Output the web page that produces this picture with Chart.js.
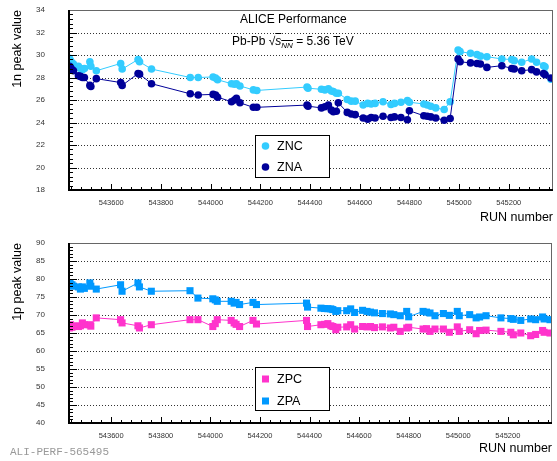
<!DOCTYPE html>
<html>
<head>
<meta charset="utf-8">
<script src="https://cdn.jsdelivr.net/npm/chart.js@4.4.0/dist/chart.umd.min.js"></script>
<style>
  body { margin: 0; background: #fff; }
  #wrap { position: relative; width: 557px; height: 461px; font-family: 'Liberation Sans', Arial, sans-serif; }
  #wrap canvas { position: absolute; left: 0; }
  .txt { position: absolute; white-space: nowrap; color: #000; }
  .txt sub { font-size: 8px; }
</style>
</head>
<body>
<div id="wrap">
  <canvas id="chartN" width="557" height="230" style="top:0"></canvas>
  <canvas id="chartP" width="557" height="231" style="top:230px"></canvas>
  <div class="txt" style="left:240px; top:12px; font-size:12px;">ALICE Performance</div>
  <div class="txt" style="left:232px; top:34px; font-size:12px;">Pb-Pb &#8730;<span style="text-decoration:overline"><i>s</i><sub><i>NN</i></sub></span> = 5.36 TeV</div>
  <div class="txt" style="left:10px; top:446px; font-family:'Liberation Mono', monospace; font-size:11px; color:#999;">ALI-PERF-565495</div>
</div>
<script>
// run numbers (shared by all four series)
const runs = [
  543432, 543436, 543442, 543448, 543468, 543476, 543484, 543492, 543514, 543518,
  543540, 543638, 543644, 543708, 543714, 543762, 543918, 543950, 544010, 544020,
  544028, 544084, 544096, 544104, 544118, 544172, 544186, 544388, 544392, 544446,
  544460, 544474, 544486, 544494, 544506, 544514, 544550, 544566, 544582, 544614,
  544632, 544646, 544662, 544694, 544726, 544740, 544766, 544792, 544800, 544858,
  544872, 544886, 544906, 544940, 544964, 544996, 545004, 545046, 545072, 545086,
  545112, 545172, 545212, 545222, 545252, 545292, 545312, 545340, 545346, 545370
];

// 1n peak values
const znc = [
  29.7, 29.5, 29.3, 29.2, 29.0, 28.8, 28.7, 28.8, 29.4, 29.0,
  28.6, 29.25, 28.75, 29.6, 29.4, 28.75, 28.0, 28.0, 28.05, 27.95,
  27.8, 27.45, 27.4, 27.45, 27.25, 26.9, 26.85, 27.15, 27.05, 26.95,
  26.9, 27.0, 26.8, 26.75, 26.6, 26.6, 26.05, 25.9, 25.9, 25.55,
  25.7, 25.65, 25.7, 25.85, 25.6, 25.7, 25.8, 25.95, 25.8, 25.65,
  25.55, 25.45, 25.3, 25.15, 25.85, 30.45, 30.3, 30.15, 30.05, 29.9,
  29.85, 29.65, 29.6, 29.5, 29.35, 29.65, 29.35, 29.05, 28.95, 27.85
];
const zna = [
  29.0, 28.9, 28.7, 28.6, 28.15, 28.1, 28.0, 28.0, 27.3, 27.2,
  27.9, 27.55, 27.3, 28.35, 28.3, 27.45, 26.55, 26.45, 26.5, 26.45,
  26.25, 25.85, 26.0, 26.15, 25.75, 25.35, 25.35, 25.55, 25.45, 25.3,
  25.4, 25.55, 25.1, 24.95, 25.0, 25.75, 24.9, 24.75, 24.7, 24.4,
  24.3, 24.45, 24.4, 24.55, 24.45, 24.5, 24.45, 24.25, 25.05, 24.6,
  24.55, 24.5, 24.4, 24.2, 24.35, 29.65, 29.4, 29.3, 29.25, 29.2,
  28.9, 29.05, 28.8, 28.75, 28.6, 28.7, 28.5, 28.35, 28.25, 27.95
];

// 1p peak values
const zpc = [
  66.4, 67.3, 66.6, 67.0, 66.8, 67.0, 67.8, 67.3, 67.3, 66.9,
  69.2, 68.7, 67.8, 67.0, 66.4, 67.3, 68.7, 68.7, 66.8, 67.6,
  68.7, 68.5, 67.8, 67.4, 66.8, 68.5, 67.5, 68.5, 66.8, 67.3,
  67.4, 67.6, 67.0, 66.8, 65.9, 66.6, 66.7, 67.3, 66.1, 66.8,
  66.7, 66.8, 66.5, 66.7, 66.4, 66.6, 65.45, 66.4, 66.6, 66.1,
  66.2, 65.45, 66.1, 66.1, 65.2, 66.7, 65.45, 65.9, 64.8, 65.7,
  65.8, 65.45, 65.2, 64.5, 65.0, 64.25, 64.6, 65.7, 65.2, 65.0
];
const zpa = [
  78.9, 78.6, 78.4, 78.0, 77.8, 77.2, 77.8, 77.4, 78.9, 78.0,
  77.2, 78.4, 76.6, 78.9, 77.8, 76.6, 76.75, 74.7, 74.5, 74.2,
  73.8, 73.8, 73.3, 73.5, 72.9, 73.5, 72.9, 73.3, 72.2, 71.9,
  71.8, 71.75, 71.7, 71.5, 71.0, 71.2, 71.2, 71.7, 70.7, 71.3,
  71.0, 70.8, 70.6, 70.4, 70.3, 70.1, 69.8, 71.0, 69.5, 71.0,
  70.8, 70.55, 69.8, 70.4, 69.9, 71.0, 69.8, 70.1, 69.2, 69.45,
  69.8, 69.2, 69.0, 68.8, 68.5, 68.9, 68.7, 69.45, 68.9, 68.7
];

// axis ticks
const xTicks = [543600, 543800, 544000, 544200, 544400, 544600, 544800, 545000, 545200];
const yTicksN = [18, 20, 22, 24, 26, 28, 30, 32, 34];
const yTicksP = [40, 45, 50, 55, 60, 65, 70, 75, 80, 85, 90];
const xMin = 543430, xMax = 545378;

Chart.defaults.font.family = "'Liberation Sans', Arial, sans-serif";

// ROOT style frame: dotted y grid, inward ticks, frame, legend box
const rootFrame = {
  id: 'rootFrame',
  beforeDatasetsDraw(chart, args, o) {
    const { ctx, chartArea: a, scales: { y } } = chart;
    ctx.save();
    ctx.strokeStyle = '#333';
    ctx.lineWidth = 1;
    ctx.setLineDash([1, 2]);
    o.yMajor.forEach(v => {
      if (v <= y.min || v >= y.max) return;
      const py = Math.round(y.getPixelForValue(v)) + 0.5;
      ctx.beginPath(); ctx.moveTo(a.left, py); ctx.lineTo(a.right, py); ctx.stroke();
    });
    ctx.restore();
  },
  afterDatasetsDraw(chart, args, o) {
    const { ctx, chartArea: a, scales: { x, y } } = chart;
    ctx.save();
    ctx.setLineDash([]);
    ctx.strokeStyle = '#000';
    ctx.lineWidth = 1;
    // y ticks (inward, from left axis)
    for (let i = 0; ; i++) {
      const v = y.min + i * o.yMinor;
      if (v > y.max + 1e-9) break;
      const py = Math.round(y.getPixelForValue(v)) + 0.5;
      const major = o.yMajor.some(m => Math.abs(m - v) < 1e-6);
      ctx.beginPath(); ctx.moveTo(a.left, py); ctx.lineTo(a.left + (major ? 8 : 4), py); ctx.stroke();
    }
    // x ticks (inward, from bottom axis)
    const x0 = Math.ceil(x.min / o.xMinor) * o.xMinor;
    for (let v = x0; v <= x.max; v += o.xMinor) {
      const px = Math.round(x.getPixelForValue(v)) + 0.5;
      const major = v % 200 === 0;
      ctx.beginPath(); ctx.moveTo(px, a.bottom); ctx.lineTo(px, a.bottom - (major ? 6 : 3)); ctx.stroke();
    }
    // frame
    ctx.strokeStyle = '#666';
    ctx.beginPath(); ctx.moveTo(a.left, a.top + 0.5); ctx.lineTo(a.right, a.top + 0.5); ctx.stroke();
    ctx.beginPath(); ctx.moveTo(a.right - 0.5, a.top); ctx.lineTo(a.right - 0.5, a.bottom); ctx.stroke();
    ctx.strokeStyle = '#000';
    ctx.lineWidth = 2;
    ctx.beginPath(); ctx.moveTo(a.left, a.top); ctx.lineTo(a.left, a.bottom); ctx.lineTo(a.right, a.bottom); ctx.stroke();

    // legend
    const L = o.legend;
    ctx.lineWidth = 1;
    ctx.fillStyle = '#fff';
    ctx.fillRect(L.x, L.y, L.w, L.h);
    ctx.strokeStyle = '#000';
    ctx.strokeRect(L.x + 0.5, L.y + 0.5, L.w, L.h);
    ctx.font = "12.5px 'Liberation Sans', Arial, sans-serif";
    ctx.textBaseline = 'middle';
    chart.data.datasets.slice().reverse().forEach((ds, i) => {
      const cy = L.y + L.row0 + i * L.step;
      ctx.fillStyle = ds.backgroundColor;
      if (ds.pointStyle === 'rect') {
        ctx.fillRect(L.x + 7, cy - 3.5, 7, 7);
      } else {
        ctx.beginPath(); ctx.arc(L.x + 10.5, cy, 3.8, 0, Math.PI * 2); ctx.fill();
      }
      ctx.fillStyle = '#000';
      ctx.fillText(ds.label, L.x + 22, cy + 0.5);
    });
    ctx.restore();
  }
};

function series(label, vals, color, style) {
  return {
    label: label,
    data: runs.map((r, i) => ({ x: r, y: vals[i] })),
    showLine: true,
    borderColor: color,
    backgroundColor: color,
    borderWidth: 1,
    pointStyle: style,
    pointRadius: style === 'rect' ? 5 : 3.8,
    pointBorderWidth: 0,
    pointBackgroundColor: color
  };
}

function makeChart(id, datasets, yMin, yMax, yTicks, yMinor, yTitle, padTop, xAxisH, legend) {
  return new Chart(document.getElementById(id), {
    type: 'scatter',
    data: { datasets: datasets },
    options: {
      responsive: false,
      animation: false,
      devicePixelRatio: 1,
      layout: { padding: { left: 0, right: 1, top: padTop, bottom: 0 } },
      plugins: {
        legend: { display: false },
        tooltip: { enabled: false },
        rootFrame: { yMajor: yTicks, yMinor: yMinor, xMinor: 40, legend: legend }
      },
      scales: {
        x: {
          type: 'linear', min: xMin, max: xMax,
          grid: { display: false, drawTicks: false }, border: { display: false },
          afterBuildTicks: s => { s.ticks = xTicks.map(v => ({ value: v })); },
          afterFit: s => { s.height = xAxisH; s.paddingLeft = 0; s.paddingRight = 0; },
          ticks: { padding: 8, color: '#333', font: { size: 7.5 }, maxRotation: 0, autoSkip: false, callback: v => String(v) },
          title: { display: true, text: 'RUN number', align: 'end', color: '#000', font: { size: 12.5 }, padding: { top: 0, bottom: 5 } }
        },
        y: {
          type: 'linear', min: yMin, max: yMax,
          grid: { display: false, drawTicks: false }, border: { display: false },
          afterBuildTicks: s => { s.ticks = yTicks.map(v => ({ value: v })); },
          afterFit: s => { s.width = 69; s.paddingTop = 0; s.paddingBottom = 0; },
          ticks: { padding: 24, color: '#333', font: { size: 8 }, autoSkip: false },
          title: { display: true, text: yTitle, align: 'end', color: '#000', font: { size: 12.5 }, padding: { top: 10.5, bottom: 0 } }
        }
      }
    },
    plugins: [rootFrame]
  });
}

makeChart('chartN',
  [series('ZNC', znc, '#33ccff', 'circle'), series('ZNA', zna, '#000099', 'circle')].reverse(),
  18, 34, yTicksN, 0.4, '1n peak value', 10, 40,
  { x: 255, y: 135, w: 74, h: 42, row0: 11, step: 21 });

makeChart('chartP',
  [series('ZPC', zpc, '#ff33cc', 'rect'), series('ZPA', zpa, '#0099ff', 'rect')].reverse(),
  40, 90, yTicksP, 1, '1p peak value', 13, 38,
  { x: 255, y: 137, w: 74, h: 43, row0: 12, step: 22 });
</script>
</body>
</html>
